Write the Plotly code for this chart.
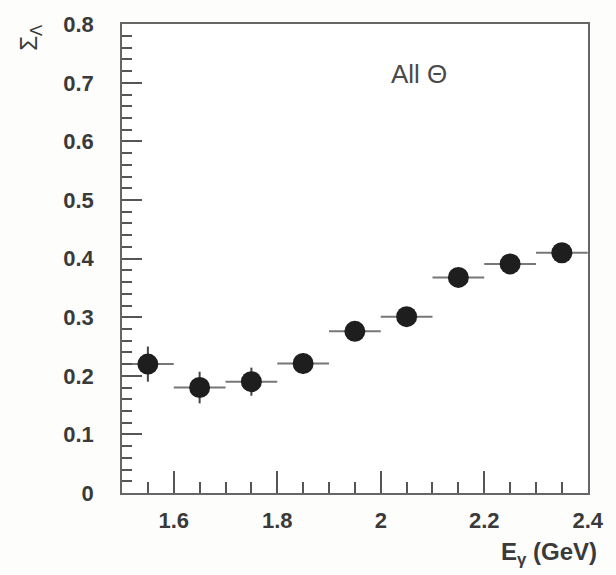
import plotly.graph_objects as go

# Beam asymmetry for Lambda photoproduction, integrated over all angles
energies = [1.55, 1.65, 1.75, 1.85, 1.95, 2.05, 2.15, 2.25, 2.35]
sigma = [0.220, 0.180, 0.190, 0.221, 0.276, 0.301, 0.368, 0.391, 0.410]
sigma_err = [0.030, 0.027, 0.024, 0.018, 0.016, 0.015, 0.015, 0.014, 0.014]
bin_halfwidth = [0.05, 0.05, 0.05, 0.05, 0.05, 0.05, 0.05, 0.05, 0.05]

x_ticks = [1.6, 1.8, 2.0, 2.2, 2.4]
x_tick_text = ["1.6", "1.8", "2", "2.2", "2.4"]
y_ticks = [0, 0.1, 0.2, 0.3, 0.4, 0.5, 0.6, 0.7, 0.8]
y_tick_text = ["0", "0.1", "0.2", "0.3", "0.4", "0.5", "0.6", "0.7", "0.8"]

FONT = "Liberation Sans, Arial, sans-serif"
INK = "#3a3a3a"

fig = go.Figure()
fig.add_trace(go.Scatter(
    x=energies,
    y=sigma,
    mode="markers",
    marker=dict(size=21, color="#1e1e1e", line=dict(width=0)),
    error_y=dict(type="data", array=sigma_err, color="#444444",
                 thickness=2, width=0),
    error_x=dict(type="data", array=bin_halfwidth, color="#777777",
                 thickness=2, width=0),
    showlegend=False,
))

axis_common = dict(
    showgrid=False,
    zeroline=False,
    showline=True,
    linecolor="#666666",
    linewidth=1.5,
    mirror=True,
    ticks="inside",
    tickcolor="#555555",
    tickwidth=1.5,
    tickfont=dict(family=FONT, size=22, color=INK, weight="bold"),
)

fig.update_xaxes(
    range=[1.5, 2.4005],
    tickvals=x_ticks,
    ticktext=x_tick_text,
    ticklen=22,
    ticklabelstandoff=7,
    minor=dict(dtick=0.05, tick0=1.5, ticks="inside", ticklen=11,
               tickcolor="#555555", tickwidth=1.5, showgrid=False),
    **axis_common,
)
fig.update_yaxes(
    range=[0, 0.8005],
    tickvals=y_ticks,
    ticktext=y_tick_text,
    ticklen=20,
    ticklabelstandoff=22,
    minor=dict(dtick=0.02, tick0=0, ticks="inside", ticklen=10,
               tickcolor="#555555", tickwidth=1.5, showgrid=False),
    **axis_common,
)

fig.add_annotation(
    text="All Θ", xref="paper", yref="paper", x=0.638, y=0.894,
    xanchor="center", yanchor="middle", showarrow=False,
    font=dict(family=FONT, size=26, color="#4a4a4a"),
)
fig.add_annotation(
    text="E<sub>γ</sub> (GeV)", xref="paper", yref="paper", x=1.023, y=-0.13,
    xanchor="right", yanchor="middle", showarrow=False,
    font=dict(family=FONT, size=24, color=INK, weight="bold"),
)
fig.add_annotation(
    text="Σ<sub>Λ</sub>", xref="paper", yref="paper", x=-0.198, y=0.972,
    xanchor="center", yanchor="middle", showarrow=False, textangle=-90,
    font=dict(family=FONT, size=24, color=INK),
)

fig.update_layout(
    width=616,
    height=575,
    margin=dict(l=122, r=19, t=20, b=82),
    paper_bgcolor="#fdfdfb",
    plot_bgcolor="#ffffff",
)

fig.write_html("out.html")
